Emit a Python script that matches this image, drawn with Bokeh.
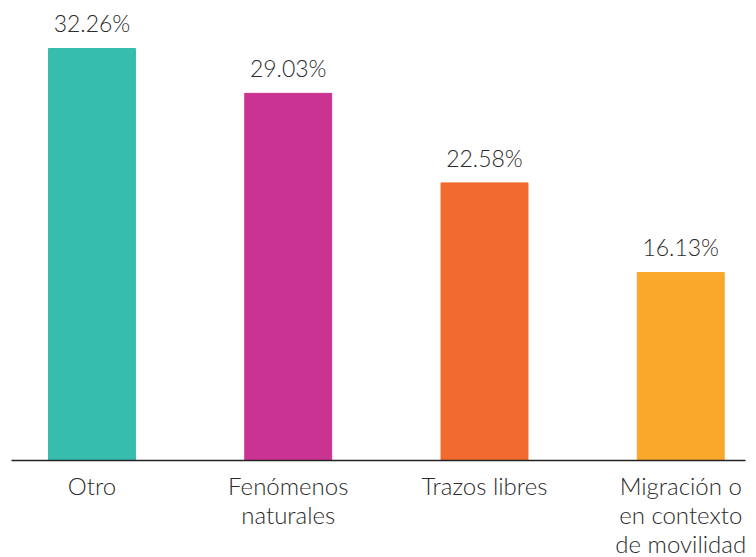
from bokeh.plotting import figure
from bokeh.models import Range1d, FixedTicker, ColumnDataSource, LabelSet
from bokeh.core.properties import value
from bokeh.embed import file_html
from bokeh.resources import INLINE

categories = ["Otro", "Fenómenos\nnaturales", "Trazos libres", "Migración o\nen contexto\nde movilidad"]
values = [32.26, 29.03, 22.58, 16.13]
value_labels = ["32.26%", "29.03%", "22.58%", "16.13%"]
colors = ["#36BDAE", "#CB3392", "#F26A2D", "#F9A82C"]

FONT = "Lato Light"
TEXT = "#2b2b2b"

xs = list(range(len(categories)))
src = ColumnDataSource(dict(x=xs, top=values, color=colors, lab=value_labels))

p = figure(output_backend="svg", toolbar_location=None,
           frame_width=734, frame_height=452,
           x_range=Range1d(-0.41, 3.33), y_range=Range1d(2.59, 35.14),
           min_border_left=11, min_border_right=11, min_border_top=8, min_border_bottom=0)
p.outline_line_color = None
p.background_fill_color = "white"
p.border_fill_color = "white"
p.grid.visible = False
p.yaxis.visible = False

p.vbar(x="x", top="top", bottom=0, width=0.443, color="color", source=src)

labels = LabelSet(x="x", y="top", text="lab", source=src, text_align="center",
                  text_baseline="alphabetic", y_offset=16, text_font=value(FONT),
                  text_font_size="23px", text_color=TEXT)
p.add_layout(labels)

ax = p.xaxis[0]
ax.ticker = FixedTicker(ticks=xs)
ax.major_label_overrides = {i: c for i, c in enumerate(categories)}
ax.major_tick_line_color = None
ax.minor_tick_line_color = None
ax.axis_line_color = "#222222"
ax.axis_line_width = 1.5
ax.major_label_text_font = FONT
ax.major_label_text_font_size = "24px"
ax.major_label_text_color = TEXT
ax.major_label_standoff = 4
ax.major_label_text_line_height = 1.0

open("out.html", "w").write(file_html(p, INLINE))
